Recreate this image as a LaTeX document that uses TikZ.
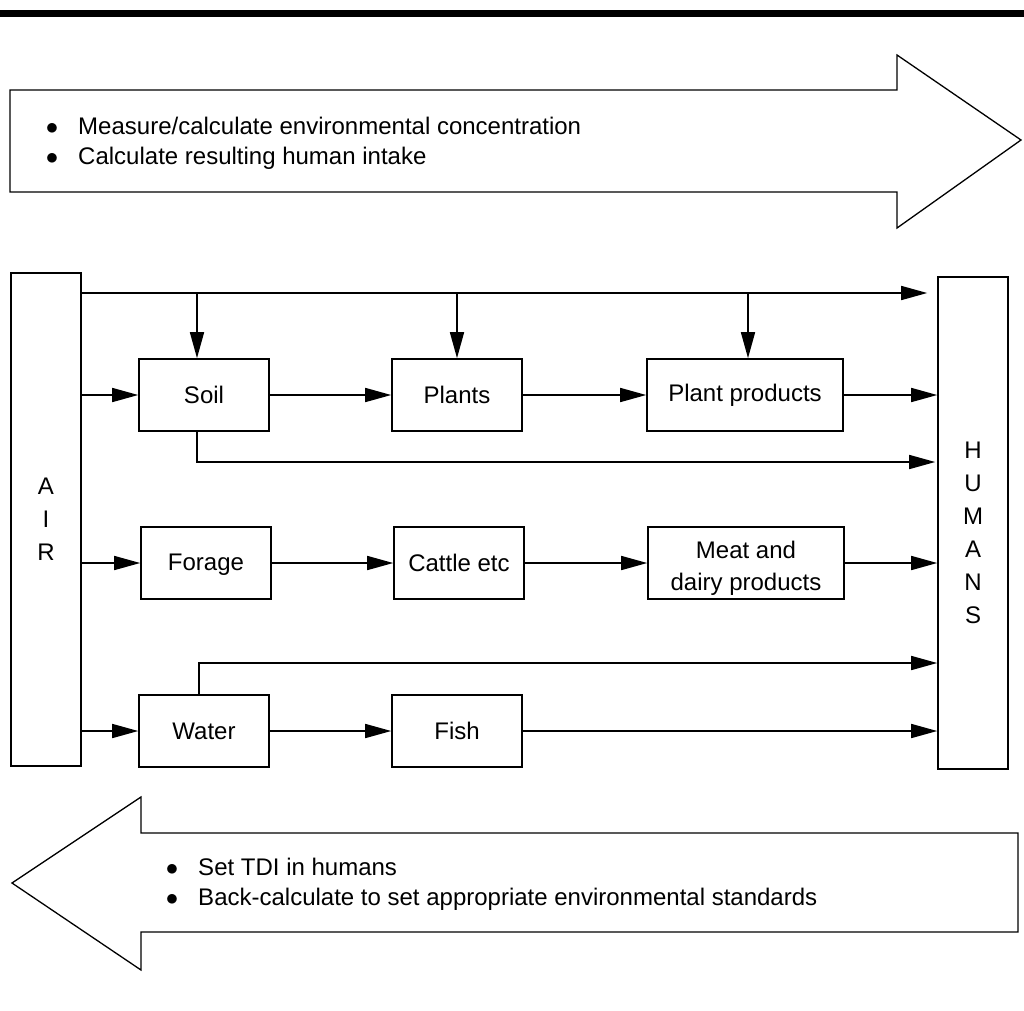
\documentclass[tikz,border=0pt]{standalone}
\usepackage{fontspec}
\setmainfont{Liberation Sans}
\usepackage{tikz}
\usetikzlibrary{arrows.meta, positioning}
\tikzset{
	>={Triangle[length=26pt,width=14pt]}, % Puntas de flecha rellenas
	caja/.style={draw, rectangle, minimum width=130pt, minimum height=72pt, align=center, font=\fontsize{24}{32}\selectfont}, % Cajas de los medios
	columna/.style={draw, rectangle, minimum width=70pt, align=center, font=\fontsize{24}{33}\selectfont}, % Columnas laterales
	bloque/.style={draw, line width=1.3pt}, % Flechas grandes
	lista/.style={anchor=west, align=left, inner sep=0pt, font=\fontsize{24}{30}\selectfont} % Texto con vinetas
}

\begin{document}
\begin{tikzpicture}[x=1pt, y=-1pt, line width=1.6pt]
	\useasboundingbox (0,0) rectangle (1024,1010);
	\fill (0,10) rectangle (1024,17);

	% flecha de ida
	\draw[bloque] (10,90) -- (897,90) -- (897,55) -- (1021,140) -- (897,228) -- (897,192) -- (10,192) -- cycle;
	\node[lista] (ida) at (45,143) {$\bullet$\hspace{20pt}Measure/calculate environmental concentration\\
		$\bullet$\hspace{20pt}Calculate resulting human intake};

	% flecha de vuelta
	\draw[bloque] (1018,833) -- (141,833) -- (141,797) -- (12,883) -- (141,970) -- (141,932) -- (1018,932) -- cycle;
	\node[lista] (vuelta) at (165,884) {$\bullet$\hspace{20pt}Set TDI in humans\\
		$\bullet$\hspace{20pt}Back-calculate to set appropriate environmental standards};

	% columnas
	\node[columna, minimum height=493pt] (AIR) at (46,519.5) {A\\I\\R};
	\node[columna, minimum height=492pt] (HUM) at (973,523) {\rule{0pt}{37pt}H\\U\\M\\A\\N\\S};

	% cajas
	\node[caja] (soil) at (204,395) {Soil};
	\node[caja] (plants) at (457,395) {Plants};
	\node[caja, minimum width=196pt] (pp) at (745,395) {Plant products};
	\node[caja, text depth=2pt] (forage) at (206,563) {Forage};
	\node[caja] (cattle) at (459,563) {Cattle etc};
	\node[caja, minimum width=196pt] (meat) at (746,563) {\rule{0pt}{27pt}Meat and\\dairy products};
	\node[caja] (water) at (204,731) {Water};
	\node[caja] (fish) at (457,731) {Fish};

	% puntos de paso
	\coordinate (t0) at (0,293);
	\coordinate (s0) at (0,462);
	\coordinate (w0) at (0,663);
	\coordinate (bs) at ([xshift=-7pt]soil.north);
	\coordinate (bs2) at ([xshift=-7pt]soil.south);
	\coordinate (bw) at ([xshift=-5pt]water.north);
	\coordinate (bp) at ([xshift=3pt]pp.north);

	% aire directo
	\draw[->, shorten >=10pt] (AIR.east |- t0) -- (HUM.west |- t0);
	\draw[->] (bs |- t0) -- (bs);
	\draw[->] (plants.north |- t0) -- (plants.north);
	\draw[->] (bp |- t0) -- (bp);

	% fila de plantas
	\draw[->] (AIR.east |- soil.west) -- (soil.west);
	\draw[->] (soil.east) -- (plants.west);
	\draw[->] (plants.east) -- (pp.west);
	\draw[->] (pp.east) -- (pp.east -| HUM.west);
	\draw[->, shorten >=2pt] (bs2) |- (HUM.west |- s0);

	% fila de ganado
	\draw[->] (AIR.east |- forage.west) -- (forage.west);
	\draw[->] (forage.east) -- (cattle.west);
	\draw[->] (cattle.east) -- (meat.west);
	\draw[->] (meat.east) -- (meat.east -| HUM.west);

	% fila de agua
	\draw[->] (AIR.east |- water.west) -- (water.west);
	\draw[->] (water.east) -- (fish.west);
	\draw[->] (fish.east) -- (fish.east -| HUM.west);
	\draw[->] (bw) |- (HUM.west |- w0);
\end{tikzpicture}
\end{document}
